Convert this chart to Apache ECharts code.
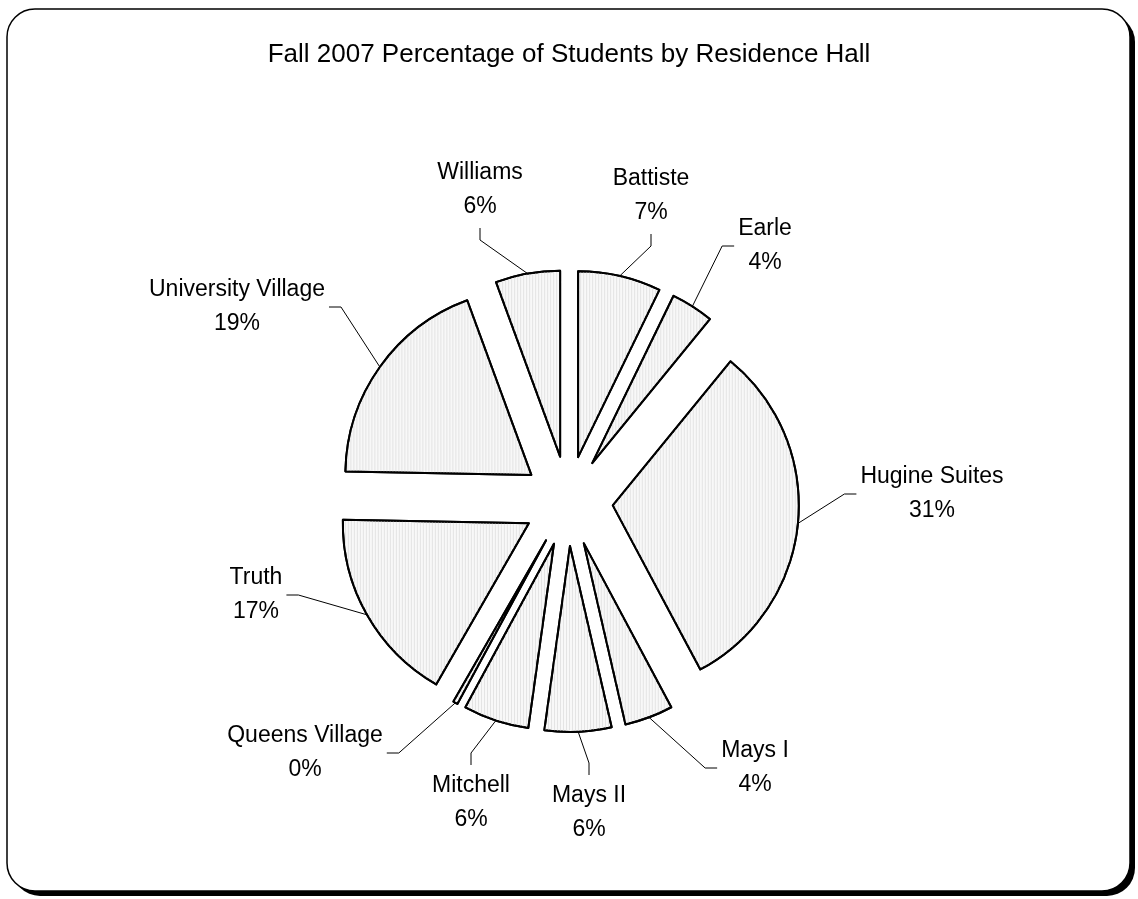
<!DOCTYPE html>
<html><head><meta charset="utf-8">
<script src="https://cdn.jsdelivr.net/npm/echarts@6/dist/echarts.min.js"></script>
<style>html,body{margin:0;padding:0;background:#fff}#c{width:1138px;height:899px}</style>
</head><body><div id="c"></div>
<script>
const categories = ['Battiste','Earle','Hugine Suites','Mays I','Mays II','Mitchell','Queens Village','Truth','University Village','Williams'];
const percentages = [7.2, 3.7, 31.3, 4.2, 5.8, 5.7, 0.4, 17.0, 19.1, 5.6];
const titleText = 'Fall 2007 Percentage of Students by Residence Hall';

// layout settings (not data)
const CX = 568, CY = 501, R = 186, OFFSET = 45;
const FONT = "'Liberation Sans', Arial, sans-serif";
// label centre offset from the pie centre and the side of the label the leader line meets
const labelPlacement = [
  [83, -305, 'bottom'],
  [197, -255, 'left'],
  [364, -7, 'left'],
  [187, 267, 'left'],
  [21, 312, 'top'],
  [-97, 302, 'top'],
  [-263, 252, 'right'],
  [-312, 94, 'right'],
  [-331, -194, 'right'],
  [-88, -311, 'bottom']
];

const total = percentages.reduce((a, b) => a + b, 0);
const midAngles = [];
let acc = 0;
percentages.forEach(v => { midAngles.push((acc + v / 2) / total * 2 * Math.PI); acc += v; });

const sliceData = categories.map((name, i) => ({ name: name, value: percentages[i], selected: true }));
const labelData = categories.map((name, i) => ({ name: name, value: percentages[i] }));

const sliceStyle = {
  color: '#f8f8f8',
  borderColor: '#000',
  borderWidth: 2,
  decal: { symbol: 'rect', symbolSize: 1, dashArrayX: [1, 2], dashArrayY: [10, 0], color: '#e4e4e4', rotation: 0 }
};

const chart = echarts.init(document.getElementById('c'), null, { renderer: 'canvas' });
chart.setOption({
  animation: false,
  backgroundColor: '#fff',
  title: {
    text: titleText, left: 'center', top: 37,
    textStyle: { fontFamily: FONT, fontSize: 26, fontWeight: 'normal', color: '#000' }
  },
  graphic: [
    { type: 'rect', z: -2, silent: true, shape: { x: 12, y: 14, width: 1123, height: 882, r: 28 }, style: { fill: '#000' } },
    { type: 'rect', z: -1, silent: true, shape: { x: 7, y: 9, width: 1123, height: 882, r: 28 }, style: { fill: '#fff', stroke: '#000', lineWidth: 1.5 } }
  ],
  series: [{
    type: 'pie',
    center: [CX, CY],
    radius: R,
    startAngle: 90,
    clockwise: true,
    selectedMode: 'multiple',
    selectedOffset: OFFSET,
    minAngle: 0,
    silent: true,
    data: sliceData,
    itemStyle: sliceStyle,
    emphasis: { disabled: true, scale: false },
    select: { itemStyle: sliceStyle },
    label: { show: false },
    labelLine: { show: false }
  }, {
    type: 'pie',
    center: [CX, CY],
    radius: R,
    startAngle: 90,
    clockwise: true,
    selectedMode: false,
    avoidLabelOverlap: false,
    minAngle: 0,
    silent: true,
    z: 3,
    data: labelData,
    itemStyle: { color: 'rgba(0,0,0,0)', borderWidth: 0 },
    emphasis: { disabled: true, scale: false },
    label: {
      show: true, position: 'outside',
      formatter: p => p.name + '\n' + Math.round(p.percent) + '%',
      fontFamily: FONT, fontSize: 23, lineHeight: 34, color: '#000', align: 'center'
    },
    labelLine: { show: true, length: 10, length2: 10, lineStyle: { color: '#000', width: 1 } },
    labelLayout: function (params) {
      const i = params.dataIndex;
      const pl = labelPlacement[i];
      const lx = CX + pl[0], ly = CY + pl[1];
      const w = params.labelRect.width, h = params.labelRect.height;
      const a = midAngles[i];
      const p0 = [CX + (R + OFFSET) * Math.sin(a), CY - (R + OFFSET) * Math.cos(a)];
      const gap = 4, tick = 12;
      let end, bend;
      if (pl[2] === 'bottom') { end = [lx, ly + h / 2 + gap]; bend = [lx, end[1] + tick]; }
      else if (pl[2] === 'top') { end = [lx, ly - h / 2 - gap]; bend = [lx, end[1] - tick]; }
      else if (pl[2] === 'left') { end = [lx - w / 2 - gap, ly]; bend = [end[0] - tick, ly]; }
      else { end = [lx + w / 2 + gap, ly]; bend = [end[0] + tick, ly]; }
      return { x: lx, y: ly, align: 'center', verticalAlign: 'middle', labelLinePoints: [p0, bend, end] };
    }
  }]
});
</script>
</body></html>
